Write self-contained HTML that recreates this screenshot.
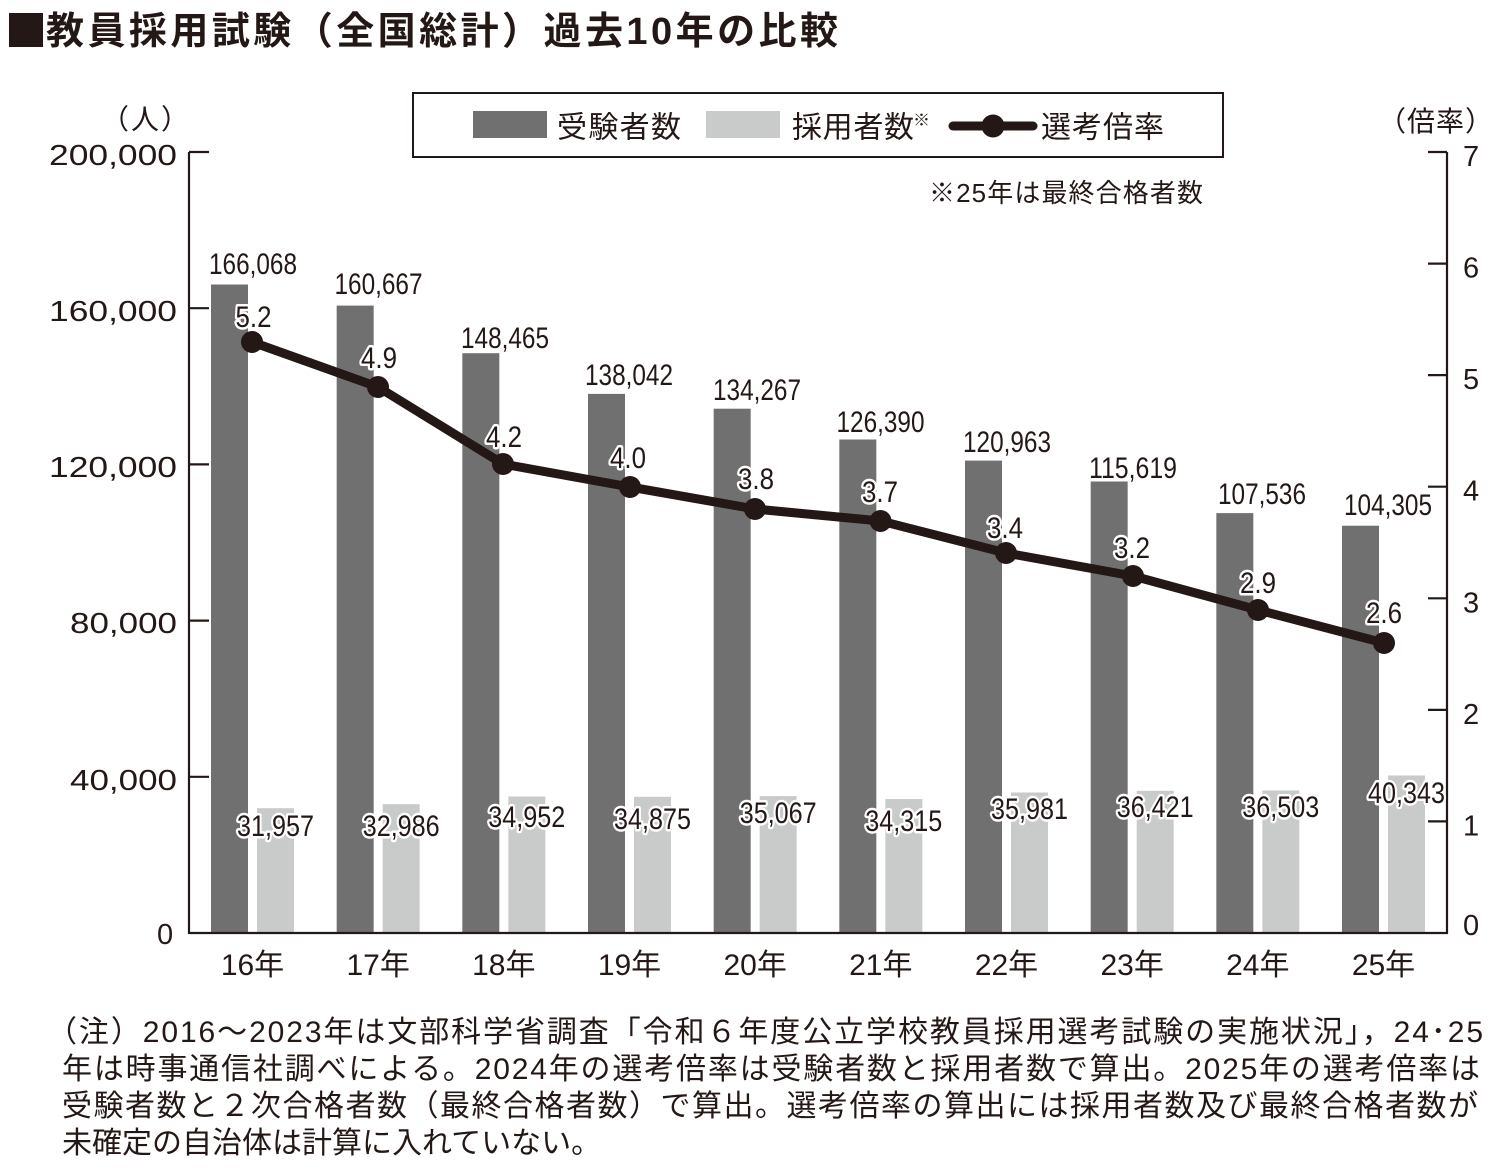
<!DOCTYPE html>
<html lang="ja">
<head>
<meta charset="utf-8">
<style>
  html,body{margin:0;padding:0;background:#fff;}
  svg{display:block;}
  text{font-family:"Liberation Sans","Noto Sans CJK JP",sans-serif;fill:#231815;}
  .halo{stroke:#fff;stroke-width:5;stroke-linejoin:round;paint-order:stroke;}
</style>
</head>
<body>
<svg width="1507" height="1169" viewBox="0 0 1507 1169" xmlns="http://www.w3.org/2000/svg">
  <rect x="0" y="0" width="1507" height="1169" fill="#fff"/>

  <!-- Title -->
  <rect x="9" y="13" width="34" height="34" fill="#231815"/>
  <text x="46" y="44" font-size="38" font-weight="bold" textLength="792" lengthAdjust="spacing">教員採用試験（全国総計）過去10年の比較</text>

  <!-- Legend -->
  <rect x="413" y="93" width="810" height="64" fill="none" stroke="#231815" stroke-width="2"/>
  <rect x="473" y="111" width="74" height="27" fill="#717071"/>
  <text x="557" y="137.5" font-size="30" textLength="124" lengthAdjust="spacing">受験者数</text>
  <rect x="706" y="111" width="74" height="27" fill="#c9caca"/>
  <text x="792" y="137.5" font-size="30" textLength="122" lengthAdjust="spacing">採用者数</text>
  <text x="913" y="126" font-size="17">※</text>
  <line x1="953" y1="126" x2="1033" y2="126" stroke="#231815" stroke-width="9" stroke-linecap="round"/>
  <circle cx="993" cy="126" r="11.5" fill="#231815"/>
  <text x="1041" y="137.5" font-size="30" textLength="123" lengthAdjust="spacing">選考倍率</text>

  <text x="929" y="202" font-size="26" textLength="274" lengthAdjust="spacing">※25年は最終合格者数</text>

  <!-- Axis unit labels -->
  <text x="101" y="129" font-size="28" letter-spacing="2">（人）</text>
  <text x="1378" y="131" font-size="28" letter-spacing="1">（倍率）</text>

  <!-- Bars: 受験者数 -->
  <g fill="#717071">
    <rect x="211" y="284.5" width="37" height="648.5"/>
    <rect x="336.67" y="305.6" width="37" height="627.4"/>
    <rect x="462.33" y="353.2" width="37" height="579.8"/>
    <rect x="588" y="393.9" width="37" height="539.1"/>
    <rect x="713.67" y="408.7" width="37" height="524.3"/>
    <rect x="839.33" y="439.5" width="37" height="493.5"/>
    <rect x="965" y="460.6" width="37" height="472.4"/>
    <rect x="1090.67" y="481.5" width="37" height="451.5"/>
    <rect x="1216.33" y="513.1" width="37" height="419.9"/>
    <rect x="1342" y="525.7" width="37" height="407.3"/>
  </g>
  <!-- Bars: 採用者数 -->
  <g fill="#c9caca">
    <rect x="257" y="808.2" width="37" height="124.8"/>
    <rect x="382.67" y="804.2" width="37" height="128.8"/>
    <rect x="508.33" y="796.5" width="37" height="136.5"/>
    <rect x="634" y="796.8" width="37" height="136.2"/>
    <rect x="759.67" y="796.1" width="37" height="136.9"/>
    <rect x="885.33" y="799" width="37" height="134"/>
    <rect x="1011" y="792.5" width="37" height="140.5"/>
    <rect x="1136.67" y="790.8" width="37" height="142.2"/>
    <rect x="1262.33" y="790.5" width="37" height="142.5"/>
    <rect x="1388" y="775.5" width="37" height="157.5"/>
  </g>

  <!-- Axes -->
  <path d="M189 152 V933 H1447 V152" fill="none" stroke="#231815" stroke-width="2.2"/>
  <g stroke="#231815" stroke-width="2.2">
    <line x1="189" y1="152" x2="209" y2="152"/>
    <line x1="189" y1="308.2" x2="209" y2="308.2"/>
    <line x1="189" y1="464.4" x2="209" y2="464.4"/>
    <line x1="189" y1="620.6" x2="209" y2="620.6"/>
    <line x1="189" y1="776.8" x2="209" y2="776.8"/>
    <line x1="1428" y1="152" x2="1447" y2="152"/>
    <line x1="1428" y1="263.6" x2="1447" y2="263.6"/>
    <line x1="1428" y1="375.1" x2="1447" y2="375.1"/>
    <line x1="1428" y1="486.7" x2="1447" y2="486.7"/>
    <line x1="1428" y1="598.3" x2="1447" y2="598.3"/>
    <line x1="1428" y1="709.9" x2="1447" y2="709.9"/>
    <line x1="1428" y1="821.4" x2="1447" y2="821.4"/>
  </g>

  <!-- Left tick labels -->
  <g font-size="29">
    <text x="49" y="165" textLength="128" lengthAdjust="spacingAndGlyphs">200,000</text>
    <text x="49" y="321" textLength="128" lengthAdjust="spacingAndGlyphs">160,000</text>
    <text x="49" y="477" textLength="128" lengthAdjust="spacingAndGlyphs">120,000</text>
    <text x="70" y="633" textLength="107" lengthAdjust="spacingAndGlyphs">80,000</text>
    <text x="70" y="790" textLength="107" lengthAdjust="spacingAndGlyphs">40,000</text>
    <text x="157" y="944">0</text>
  </g>
  <!-- Right tick labels -->
  <g font-size="29">
    <text x="1463" y="166">7</text>
    <text x="1463" y="277.6">6</text>
    <text x="1463" y="389.1">5</text>
    <text x="1463" y="500.7">4</text>
    <text x="1463" y="612.3">3</text>
    <text x="1463" y="723.9">2</text>
    <text x="1463" y="835.4">1</text>
    <text x="1463" y="935">0</text>
  </g>

  <!-- Category labels -->
  <g font-size="30" text-anchor="middle">
    <text x="252.5" y="975">16年</text>
    <text x="378.2" y="975">17年</text>
    <text x="503.8" y="975">18年</text>
    <text x="629.5" y="975">19年</text>
    <text x="755.2" y="975">20年</text>
    <text x="880.8" y="975">21年</text>
    <text x="1006.5" y="975">22年</text>
    <text x="1132.2" y="975">23年</text>
    <text x="1257.8" y="975">24年</text>
    <text x="1383.5" y="975">25年</text>
  </g>

  <!-- Light bar value labels -->
  <g font-size="30">
    <text class="halo" x="237" y="836" textLength="77" lengthAdjust="spacingAndGlyphs">31,957</text>
    <text class="halo" x="362.7" y="836" textLength="77" lengthAdjust="spacingAndGlyphs">32,986</text>
    <text class="halo" x="488.3" y="827" textLength="77" lengthAdjust="spacingAndGlyphs">34,952</text>
    <text class="halo" x="614" y="829" textLength="77" lengthAdjust="spacingAndGlyphs">34,875</text>
    <text class="halo" x="739.7" y="823" textLength="77" lengthAdjust="spacingAndGlyphs">35,067</text>
    <text class="halo" x="865.3" y="831" textLength="77" lengthAdjust="spacingAndGlyphs">34,315</text>
    <text class="halo" x="991" y="819" textLength="77" lengthAdjust="spacingAndGlyphs">35,981</text>
    <text class="halo" x="1116.7" y="817" textLength="77" lengthAdjust="spacingAndGlyphs">36,421</text>
    <text class="halo" x="1242.3" y="817" textLength="77" lengthAdjust="spacingAndGlyphs">36,503</text>
    <text class="halo" x="1368" y="803" textLength="77" lengthAdjust="spacingAndGlyphs">40,343</text>
  </g>

  <!-- Dark bar value labels -->
  <g font-size="30">
    <text x="209" y="274" textLength="88" lengthAdjust="spacingAndGlyphs">166,068</text>
    <text x="334.5" y="294" textLength="88" lengthAdjust="spacingAndGlyphs">160,667</text>
    <text x="461" y="348" textLength="88" lengthAdjust="spacingAndGlyphs">148,465</text>
    <text x="585" y="385" textLength="88" lengthAdjust="spacingAndGlyphs">138,042</text>
    <text x="713" y="400" textLength="88" lengthAdjust="spacingAndGlyphs">134,267</text>
    <text x="836.5" y="432" textLength="88" lengthAdjust="spacingAndGlyphs">126,390</text>
    <text x="963" y="452" textLength="88" lengthAdjust="spacingAndGlyphs">120,963</text>
    <text x="1089" y="478" textLength="88" lengthAdjust="spacingAndGlyphs">115,619</text>
    <text x="1218" y="504" textLength="88" lengthAdjust="spacingAndGlyphs">107,536</text>
    <text x="1344" y="515" textLength="88" lengthAdjust="spacingAndGlyphs">104,305</text>
  </g>

  <!-- Rate line -->
  <polyline points="252,342 378,387 503,464 630,487 755,509 880.5,521 1006,553 1133,576 1258,610 1384,643"
            fill="none" stroke="#231815" stroke-width="9" stroke-linejoin="round" stroke-linecap="round"/>
  <g fill="#231815">
    <circle cx="252" cy="342" r="11"/>
    <circle cx="378" cy="387" r="11"/>
    <circle cx="503" cy="464" r="11"/>
    <circle cx="630" cy="487" r="11"/>
    <circle cx="755" cy="509" r="11"/>
    <circle cx="880.5" cy="521" r="11"/>
    <circle cx="1006" cy="553" r="11"/>
    <circle cx="1133" cy="576" r="11"/>
    <circle cx="1258" cy="610" r="11"/>
    <circle cx="1384" cy="643" r="11"/>
  </g>

  <!-- Rate labels -->
  <g font-size="30">
    <text class="halo" x="235.5" y="327" textLength="36" lengthAdjust="spacingAndGlyphs">5.2</text>
    <text class="halo" x="361" y="368" textLength="36" lengthAdjust="spacingAndGlyphs">4.9</text>
    <text class="halo" x="486" y="447" textLength="36" lengthAdjust="spacingAndGlyphs">4.2</text>
    <text class="halo" x="610" y="468" textLength="36" lengthAdjust="spacingAndGlyphs">4.0</text>
    <text class="halo" x="738" y="489" textLength="36" lengthAdjust="spacingAndGlyphs">3.8</text>
    <text class="halo" x="862" y="502" textLength="36" lengthAdjust="spacingAndGlyphs">3.7</text>
    <text class="halo" x="987" y="538" textLength="36" lengthAdjust="spacingAndGlyphs">3.4</text>
    <text class="halo" x="1114" y="558" textLength="36" lengthAdjust="spacingAndGlyphs">3.2</text>
    <text class="halo" x="1240" y="593" textLength="36" lengthAdjust="spacingAndGlyphs">2.9</text>
    <text class="halo" x="1366" y="623" textLength="36" lengthAdjust="spacingAndGlyphs">2.6</text>
  </g>

  <!-- Footnote -->
  <g font-size="30">
    <text x="47" y="1042" textLength="1436" lengthAdjust="spacing">（注）2016～2023年は文部科学省調査「令和６年度公立学校教員採用選考試験の実施状況」，24･25</text>
    <text x="62" y="1079" textLength="1418" lengthAdjust="spacing">年は時事通信社調べによる。2024年の選考倍率は受験者数と採用者数で算出。2025年の選考倍率は</text>
    <text x="62" y="1116" textLength="1416" lengthAdjust="spacing">受験者数と２次合格者数（最終合格者数）で算出。選考倍率の算出には採用者数及び最終合格者数が</text>
    <text x="62" y="1153">未確定の自治体は計算に入れていない。</text>
  </g>
</svg>
</body>
</html>
